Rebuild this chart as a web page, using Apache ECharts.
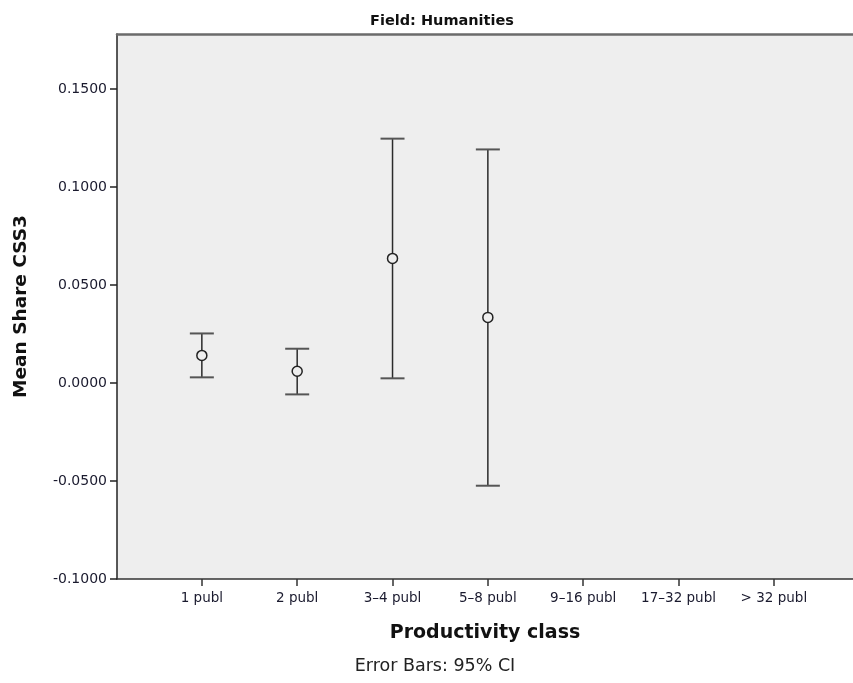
<!DOCTYPE html>
<html>
<head>
<meta charset="utf-8">
<script src="https://cdn.jsdelivr.net/npm/echarts@6/dist/echarts.min.js"></script>
<style>html,body{margin:0;padding:0;background:#fff;}#c{width:853px;height:683px;}</style>
</head>
<body>
<div id="c"></div>
<script>
const categories = ['1 publ', '2 publ', '3–4 publ', '5–8 publ', '9–16 publ', '17–32 publ', '> 32 publ'];
const means = [0.0141, 0.0060, 0.0636, 0.0335, null, null, null];
const lowerCI = [0.0029, -0.0058, 0.0024, -0.0524, null, null, null];
const upperCI = [0.0253, 0.0175, 0.1247, 0.1192, null, null, null];
const yTicks = [-0.1, -0.05, 0, 0.05, 0.1, 0.15];

const FONT = '"DejaVu Sans", sans-serif';
const positions = categories.map((c, i) => i + 1);
const data = [];
categories.forEach((c, i) => {
  if (means[i] !== null) data.push([i + 1, means[i], lowerCI[i], upperCI[i]]);
});

const chart = echarts.init(document.getElementById('c'), null, {renderer: 'canvas'});
chart.setOption({
  backgroundColor: '#ffffff',
  animation: false,
  title: {
    text: 'Field: Humanities',
    left: 437, top: 9, textAlign: 'center',
    textStyle: {fontFamily: FONT, fontSize: 14.5, fontWeight: 'bold', color: '#111'}
  },
  graphic: [{
    type: 'text', x: 435, y: 657,
    style: {text: 'Error Bars: 95% CI', fontFamily: FONT, fontSize: 17.5, fill: '#222', align: 'center'}
  }],
  grid: {
    left: 117, right: -4, top: 34, bottom: 104,
    show: true, backgroundColor: '#eeeeee', borderWidth: 0
  },
  xAxis: [{
    type: 'value', min: 0.11, max: 7.83,
    name: 'Productivity class', nameLocation: 'middle', nameGap: 45,
    nameTextStyle: {fontFamily: FONT, fontSize: 19, fontWeight: 'bold', color: '#111'},
    axisLine: {show: true, onZero: false, lineStyle: {color: '#333', width: 1.5}},
    axisTick: {show: true, length: 7, customValues: positions, lineStyle: {color: '#333', width: 1.5}},
    axisLabel: {
      customValues: positions, margin: 12,
      fontFamily: FONT, fontSize: 13.5, color: '#1a1a2e',
      formatter: v => categories[Math.round(v) - 1] || ''
    },
    splitLine: {show: false}
  }, {
    type: 'value', min: 0.11, max: 7.83, position: 'top',
    axisLine: {show: true, onZero: false, lineStyle: {color: '#6b6b6b', width: 2.5}},
    axisTick: {show: false}, axisLabel: {show: false}, splitLine: {show: false}
  }],
  yAxis: {
    type: 'value', min: -0.1, max: 0.1781,
    name: 'Mean Share CSS3', nameLocation: 'middle', nameGap: 86,
    nameTextStyle: {fontFamily: FONT, fontSize: 18.5, fontWeight: 'bold', color: '#111'},
    axisLine: {show: true, onZero: false, lineStyle: {color: '#222', width: 1.5}},
    axisTick: {show: true, length: 7, customValues: yTicks, lineStyle: {color: '#222', width: 1.5}},
    axisLabel: {
      customValues: yTicks, margin: 10,
      fontFamily: FONT, fontSize: 14, color: '#1a1a2e',
      formatter: v => v.toFixed(4)
    },
    splitLine: {show: false}
  },
  series: [{
    type: 'custom',
    data: data,
    encode: {x: 0, y: [1, 2, 3]},
    clip: false,
    renderItem: function (params, api) {
      const x = api.value(0);
      const pm = api.coord([x, api.value(1)]);
      const pl = api.coord([x, api.value(2)]);
      const pu = api.coord([x, api.value(3)]);
      const cap = 12;
      const r = 5;
      const ls = {stroke: '#2a2a2a', lineWidth: 1.5};
      return {
        type: 'group',
        children: [
          {type: 'line', shape: {x1: pl[0], y1: pl[1], x2: pu[0], y2: pu[1]}, style: ls},
          {type: 'line', shape: {x1: pl[0] - cap, y1: pl[1], x2: pl[0] + cap, y2: pl[1]}, style: {stroke: '#555', lineWidth: 2}},
          {type: 'line', shape: {x1: pu[0] - cap, y1: pu[1], x2: pu[0] + cap, y2: pu[1]}, style: {stroke: '#555', lineWidth: 2}},
          {type: 'circle', shape: {cx: pm[0], cy: pm[1], r: r}, style: {fill: '#eeeeee', stroke: '#222', lineWidth: 1.5}}
        ]
      };
    }
  }]
});
</script>
</body>
</html>
